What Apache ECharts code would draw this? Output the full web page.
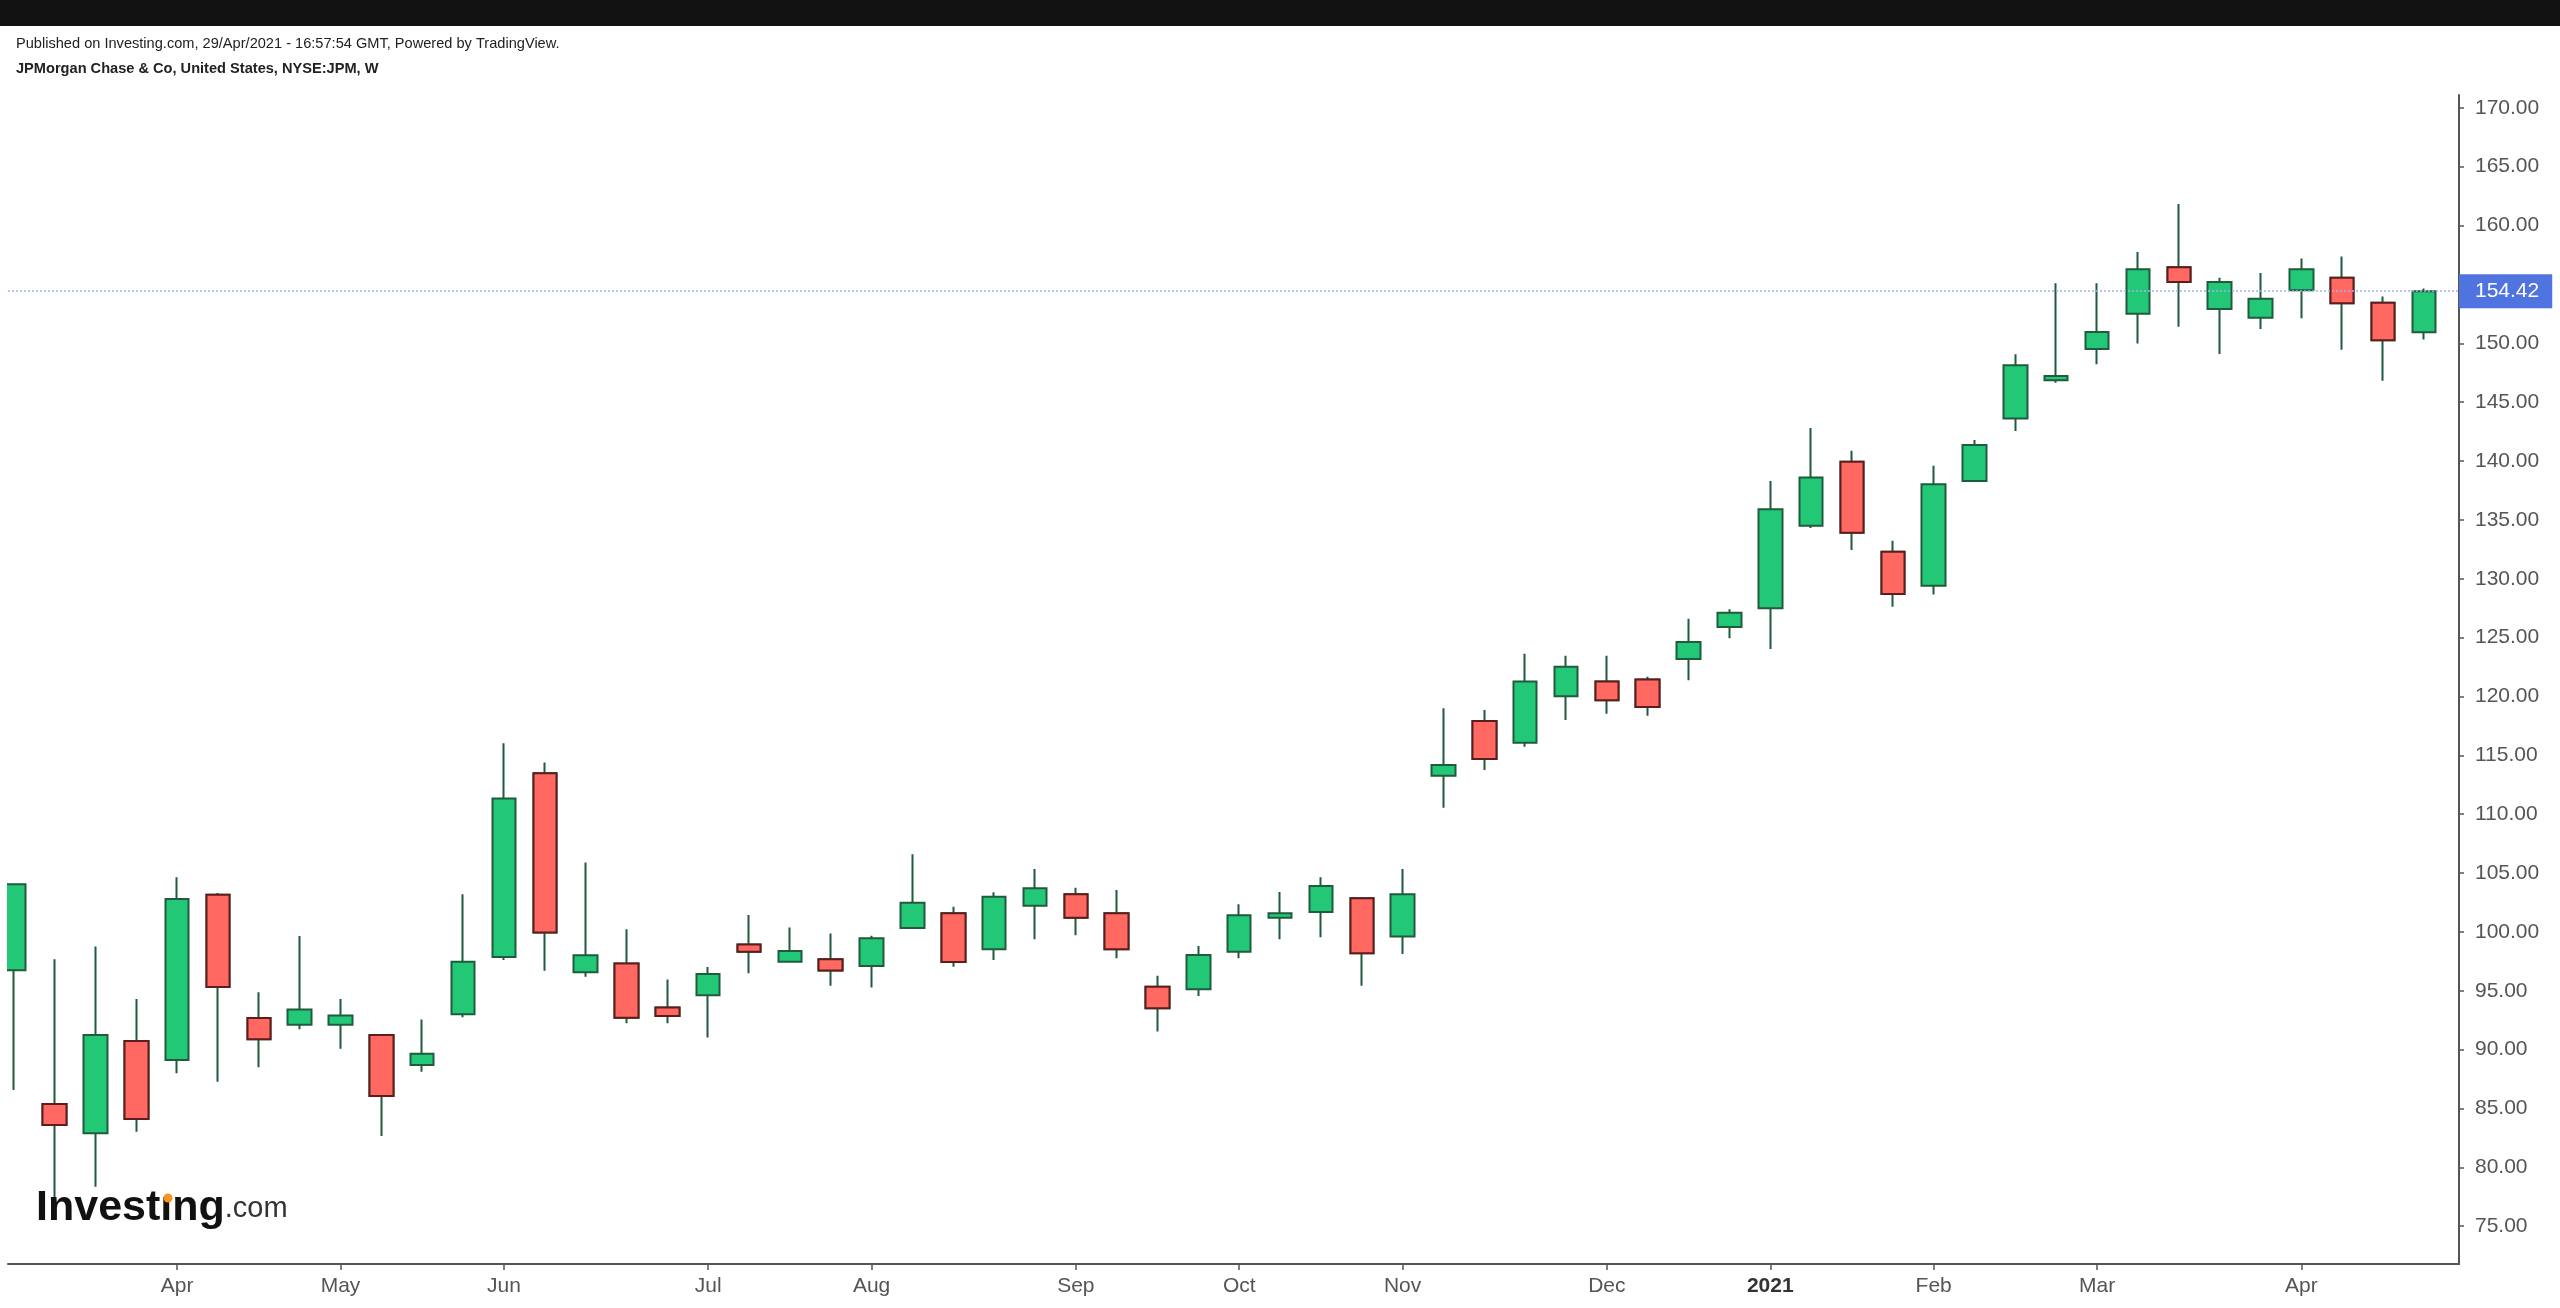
<!DOCTYPE html>
<html>
<head>
<meta charset="utf-8">
<script src="https://cdn.jsdelivr.net/npm/echarts@6/dist/echarts.min.js"></script>
<style>
html,body{margin:0;padding:0;background:#fff;}
#chart{width:2560px;height:1308px;}
</style>
</head>
<body>
<div id="chart"></div>
<script>
// Weekly bars, JPM, week starting dates
const weeks = [
 '2020-03-09','2020-03-16','2020-03-23','2020-03-30','2020-04-06','2020-04-13','2020-04-20','2020-04-27',
 '2020-05-04','2020-05-11','2020-05-18','2020-05-25','2020-06-01','2020-06-08','2020-06-15','2020-06-22',
 '2020-06-29','2020-07-06','2020-07-13','2020-07-20','2020-07-27','2020-08-03','2020-08-10','2020-08-17',
 '2020-08-24','2020-08-31','2020-09-07','2020-09-14','2020-09-21','2020-09-28','2020-10-05','2020-10-12',
 '2020-10-19','2020-10-26','2020-11-02','2020-11-09','2020-11-16','2020-11-23','2020-11-30','2020-12-07',
 '2020-12-14','2020-12-21','2020-12-28','2021-01-04','2021-01-11','2021-01-18','2021-01-25','2021-02-01',
 '2021-02-08','2021-02-15','2021-02-22','2021-03-01','2021-03-08','2021-03-15','2021-03-22','2021-03-29',
 '2021-04-05','2021-04-12','2021-04-19','2021-04-26'
];
const opens = [
 96.74,85.38,82.89,90.73,89.12,103.16,92.69,92.12,92.12,91.24,88.70,93.00,
 97.86,113.48,96.58,97.31,93.58,94.61,98.92,97.46,97.67,97.10,100.34,101.58,
 98.52,102.23,103.19,101.58,95.35,95.12,98.32,101.21,101.69,102.85,99.60,113.27,
 117.91,116.07,120.01,121.26,121.45,123.18,125.90,127.50,134.50,139.94,132.30,129.41,
 138.30,143.62,146.85,149.51,152.51,156.45,152.91,152.17,154.50,155.57,153.44,150.94
];
const closes = [
 104.04,83.60,91.24,84.11,102.80,95.32,90.88,93.40,92.89,86.06,89.66,97.47,
 111.33,99.95,98.01,92.70,92.85,96.43,98.31,98.37,96.73,99.46,102.47,97.44,
 102.99,103.70,101.21,98.52,93.51,98.04,101.41,101.58,103.90,98.18,103.19,114.18,
 114.69,121.26,122.53,119.67,119.10,124.63,127.10,135.90,138.60,133.91,128.70,138.02,
 141.36,148.13,147.22,150.96,156.28,155.20,155.20,153.79,156.28,153.39,150.26,154.42
];
const lows = [
 86.57,76.91,78.36,83.03,87.99,87.28,88.50,91.73,90.08,82.66,88.13,92.74,
 97.61,96.70,96.19,92.25,92.25,91.03,96.49,97.40,95.43,95.28,100.30,97.05,
 97.61,99.37,99.71,97.76,91.53,94.56,97.76,99.37,99.54,95.43,98.12,110.55,
 113.75,115.73,118.00,118.54,118.37,121.37,124.94,124.03,134.30,132.44,127.63,128.67,
 138.30,142.55,146.65,148.21,149.99,151.41,149.09,151.21,152.12,149.46,146.81,150.32
];
const highs = [
 104.10,97.67,98.75,94.30,104.64,103.30,94.87,99.65,94.30,91.30,92.55,103.19,
 116.03,114.39,105.90,100.22,95.95,97.01,101.44,100.37,99.86,99.68,106.59,102.14,
 103.36,105.34,103.76,103.56,96.28,98.80,102.34,103.39,104.64,102.90,105.34,118.99,
 118.85,123.63,123.46,123.46,121.68,126.60,127.40,138.30,142.80,140.88,133.23,139.60,
 141.78,149.06,155.09,155.09,157.75,161.83,155.57,155.97,157.21,157.38,153.98,154.66
];
const lastPrice = 154.42;
const tickWeeks = ['2020-04-06','2020-05-04','2020-06-01','2020-07-06','2020-08-03','2020-09-07','2020-10-05','2020-11-02','2020-12-07','2021-01-04','2021-02-01','2021-03-01','2021-04-05'];
const tickLabels = ['Apr','May','Jun','Jul','Aug','Sep','Oct','Nov','Dec','2021','Feb','Mar','Apr'];
const priceTicks = [75,80,85,90,95,100,105,110,115,120,125,130,135,140,145,150,155,160,165,170];

const tickIdx = tickWeeks.map(w => weeks.indexOf(w));
const labelOf = {};
tickIdx.forEach((ix, k) => { labelOf[ix] = tickLabels[k]; });

const candles = weeks.map((w, i) => [i, opens[i], closes[i], lows[i], highs[i]]);
const redBodies = weeks.map((w, i) => closes[i] < opens[i]
  ? [i, opens[i], closes[i], Math.min(opens[i], closes[i]), Math.max(opens[i], closes[i])]
  : [i, '-', '-', '-', '-']);

const GREEN = '#22c875', GREEN_EDGE = '#1f5b3c', RED = '#ff6961', RED_EDGE = '#5e1c1c';
const AXIS = '#555555';
const FONT = '"Liberation Sans", Arial, sans-serif';

const chart = echarts.init(document.getElementById('chart'), null, {renderer: 'canvas'});
chart.setOption({
  backgroundColor: '#ffffff',
  animation: false,
  textStyle: {fontFamily: FONT},
  grid: {left: 8, right: 101, top: 95, bottom: 44, containLabel: false, outerBoundsMode: 'none'},
  xAxis: {
    type: 'value', min: -0.14, max: 59.86,
    splitLine: {show: false},
    axisLine: {show: true, onZero: false, lineStyle: {color: AXIS, width: 2}},
    axisTick: {show: true, customValues: tickIdx, length: 6, lineStyle: {color: AXIS, width: 1.5}},
    axisLabel: {
      customValues: tickIdx, margin: 12, color: '#555', fontSize: 21, fontFamily: FONT,
      formatter: v => {
        const t = labelOf[Math.round(v)] || '';
        return /^\d{4}$/.test(t) ? '{b|' + t + '}' : t;
      },
      rich: {b: {fontWeight: 'bold', color: '#333', fontSize: 21, fontFamily: FONT}}
    }
  },
  yAxis: {
    type: 'value', position: 'right', min: 71.79, max: 171.09, scale: true,
    splitLine: {show: false},
    axisLine: {show: true, onZero: false, lineStyle: {color: AXIS, width: 2}},
    axisTick: {show: true, customValues: priceTicks, length: 5, lineStyle: {color: AXIS, width: 1.5}},
    axisLabel: {customValues: priceTicks, margin: 16, color: '#555', fontSize: 21, fontFamily: FONT,
      formatter: v => v.toFixed(2)}
  },
  series: [
    {
      type: 'candlestick', name: 'JPM', data: candles, barWidth: 24, clip: true,
      itemStyle: {color: GREEN, color0: RED, borderColor: GREEN_EDGE, borderColor0: GREEN_EDGE, borderWidth: 2}
    },
    {
      type: 'candlestick', name: 'down bodies', data: redBodies, barWidth: 24, clip: false,
      itemStyle: {color: GREEN, color0: RED, borderColor: GREEN_EDGE, borderColor0: RED_EDGE, borderWidth: 2},
      markLine: {
        silent: true, symbol: ['none', 'none'],
        lineStyle: {color: '#9fb2ee', type: [2, 2], width: 1.5},
        label: {show: true, position: 'end', distance: 0, formatter: () => lastPrice.toFixed(2),
          backgroundColor: '#4f74e0', color: '#ffffff', fontSize: 21, fontFamily: FONT,
          padding: [7, 13, 6, 16], borderRadius: 0},
        data: [{yAxis: lastPrice}]
      }
    }
  ],
  graphic: [
    {type: 'rect', left: 0, top: 90, z: 50, shape: {width: 7, height: 1172}, style: {fill: '#ffffff'}, silent: true},
    {type: 'rect', left: 0, top: 0, shape: {width: 2560, height: 26}, style: {fill: '#121212'}, silent: true},
    {type: 'text', left: 16, top: 36, style: {text: 'Published on Investing.com, 29/Apr/2021 - 16:57:54 GMT, Powered by TradingView.', font: '14.6px ' + FONT, fill: '#222'}},
    {type: 'text', left: 16, top: 61, style: {text: 'JPMorgan Chase & Co, United States, NYSE:JPM, W', font: 'bold 14.6px ' + FONT, fill: '#222'}},
    {type: 'text', left: 36, top: 1187, z: 100, style: {
      text: '{a|Investıng}{b|.com}',
      rich: {
        a: {fontSize: 43, fontWeight: 'bold', fontFamily: FONT, fill: '#111', color: '#111'},
        b: {fontSize: 29, fontFamily: FONT, fill: '#333', color: '#333'}
      }
    }},
    {type: 'circle', shape: {cx: 168, cy: 1198, r: 4.5}, style: {fill: '#f7941d'}, z: 101}
  ]
});
</script>
</body>
</html>
